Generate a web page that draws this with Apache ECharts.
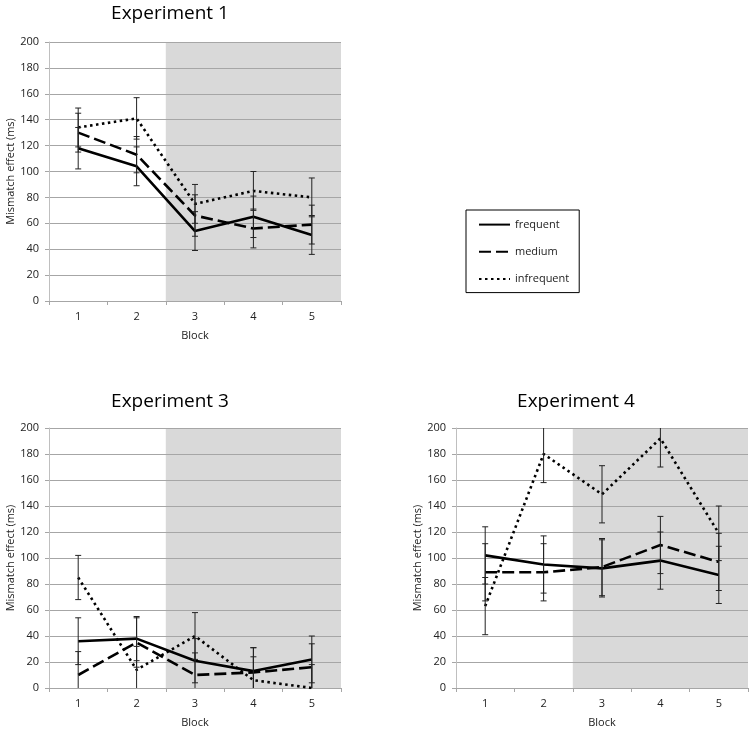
<!DOCTYPE html>
<html>
<head>
<meta charset="utf-8">
<script src="https://cdn.jsdelivr.net/npm/echarts@6/dist/echarts.min.js"></script>
<style>
  html, body { margin: 0; padding: 0; background: #fff; }
  #chart { width: 756px; height: 731px; }
</style>
</head>
<body>
<div id="chart"></div>
<script>
// blocks on the x axis
const blocks = ["1", "2", "3", "4", "5"];
const yTicks = [0, 20, 40, 60, 80, 100, 120, 140, 160, 180, 200];

// Experiment 1 (mean mismatch effect, ms) and error bar half widths
const exp1Frequent = [118, 104, 54, 65, 51];
const exp1Medium = [130, 113, 66, 56, 59];
const exp1Infrequent = [134, 141, 75, 85, 80];
const exp1FrequentErr = [16, 15, 15, 16, 15];
const exp1MediumErr = [15, 14, 16, 15, 15];
const exp1InfrequentErr = [15, 16, 15, 15, 15];

// Experiment 3
const exp3Frequent = [36, 38, 21, 13, 22];
const exp3Medium = [10, 35, 10, 12, 16];
const exp3Infrequent = [85, 14, 40, 6, 0];
const exp3FrequentErr = [18, 17, 17, 18, 18];
const exp3MediumErr = [18, 19, 17, 19, 18];
const exp3InfrequentErr = [17, 18, 18, 18, 18];

// Experiment 4
const exp4Frequent = [102, 95, 92, 98, 87];
const exp4Medium = [89, 89, 93, 110, 97];
const exp4Infrequent = [63, 180, 149, 192, 119];
const exp4FrequentErr = [22, 22, 22, 22, 22];
const exp4MediumErr = [22, 22, 22, 22, 22];
const exp4InfrequentErr = [22, 22, 22, 22, 21];

const FONT = "Open Sans";
const chart = echarts.init(document.getElementById("chart"));

const panels = [
  { title: "Experiment 1", grid: { left: 49, top: 42, width: 292, height: 259 }, titleX: 170, titleY: 4,
    f: exp1Frequent, m: exp1Medium, i: exp1Infrequent, fe: exp1FrequentErr, me: exp1MediumErr, ie: exp1InfrequentErr },
  { title: "Experiment 3", grid: { left: 49, top: 428, width: 292, height: 260 }, titleX: 170, titleY: 392,
    f: exp3Frequent, m: exp3Medium, i: exp3Infrequent, fe: exp3FrequentErr, me: exp3MediumErr, ie: exp3InfrequentErr },
  { title: "Experiment 4", grid: { left: 456, top: 428, width: 292, height: 260 }, titleX: 576, titleY: 392,
    f: exp4Frequent, m: exp4Medium, i: exp4Infrequent, fe: exp4FrequentErr, me: exp4MediumErr, ie: exp4InfrequentErr }
];

const lineStyles = {
  frequent: { type: "solid", width: 2.6 },
  medium: { type: [12, 5], width: 2.6 },
  infrequent: { type: [2.5, 3.5], width: 2.6 }
};

function lineSeries(name, data, idx) {
  return {
    name: name,
    type: "line",
    xAxisIndex: idx * 2,
    yAxisIndex: idx,
    data: data,
    symbol: "none",
    color: "#000",
    lineStyle: Object.assign({ color: "#000" }, lineStyles[name]),
    z: 3,
    silent: true
  };
}

function errorSeries(values, errs, idx) {
  return {
    type: "custom",
    xAxisIndex: idx * 2,
    yAxisIndex: idx,
    clip: true,
    silent: true,
    z: 4,
    data: values.map((v, k) => [k, v - errs[k], v + errs[k]]),
    renderItem: function (params, api) {
      const lo = api.coord([api.value(0), api.value(1)]);
      const hi = api.coord([api.value(0), api.value(2)]);
      const w = 3;
      const style = { stroke: "#222", lineWidth: 1 };
      return {
        type: "group",
        children: [
          { type: "line", shape: { x1: lo[0], y1: lo[1], x2: hi[0], y2: hi[1] }, style: style },
          { type: "line", shape: { x1: lo[0] - w, y1: lo[1], x2: lo[0] + w, y2: lo[1] }, style: style },
          { type: "line", shape: { x1: hi[0] - w, y1: hi[1], x2: hi[0] + w, y2: hi[1] }, style: style }
        ]
      };
    }
  };
}

const grids = [], xAxes = [], yAxes = [], series = [], titles = [];

panels.forEach((p, idx) => {
  grids.push(Object.assign({ containLabel: false }, p.grid));
  titles.push({
    text: p.title,
    left: p.titleX,
    top: p.titleY,
    textAlign: "center",
    padding: 0,
    textStyle: { fontFamily: FONT, fontSize: 19, fontWeight: "normal", color: "#000" }
  });
  xAxes.push({
    type: "category",
    gridIndex: idx,
    data: blocks,
    boundaryGap: true,
    name: "Block",
    nameLocation: "middle",
    nameGap: 29,
    nameTextStyle: { fontFamily: FONT, fontSize: 11, color: "#222" },
    axisLine: { lineStyle: { color: "#a6a6a6", width: 1 } },
    axisTick: { show: true, length: 4, alignWithLabel: false, lineStyle: { color: "#a6a6a6" } },
    axisLabel: { margin: 10, fontFamily: FONT, fontSize: 11, color: "#222" },
    splitLine: { show: false },
    z: 1.5
  });
  // hidden numeric axis used to place the shaded band between blocks
  xAxes.push({
    type: "value",
    gridIndex: idx,
    min: 0.5,
    max: 5.5,
    show: false
  });
  yAxes.push({
    type: "value",
    gridIndex: idx,
    min: yTicks[0],
    max: yTicks[yTicks.length - 1],
    interval: yTicks[1] - yTicks[0],
    name: "Mismatch effect (ms)",
    nameLocation: "middle",
    nameGap: 32,
    nameTextStyle: { fontFamily: FONT, fontSize: 11, color: "#222" },
    axisLine: { show: true, lineStyle: { color: "#bfbfbf", width: 1 } },
    axisTick: { show: true, length: 4, lineStyle: { color: "#a6a6a6" } },
    axisLabel: { margin: 10, fontFamily: FONT, fontSize: 11, color: "#222" },
    splitLine: { show: true, lineStyle: { color: "#a6a6a6", width: 1 } },
    z: 1.5
  });
  series.push({
    type: "line",
    xAxisIndex: idx * 2 + 1,
    yAxisIndex: idx,
    data: [],
    silent: true,
    z: -1,
    markArea: {
      silent: true,
      z: -1,
      itemStyle: { color: "#d9d9d9" },
      data: [[{ xAxis: 2.5 }, { xAxis: 5.5 }]]
    }
  });
  series.push(lineSeries("frequent", p.f, idx));
  series.push(lineSeries("medium", p.m, idx));
  series.push(lineSeries("infrequent", p.i, idx));
  series.push(errorSeries(p.f, p.fe, idx));
  series.push(errorSeries(p.m, p.me, idx));
  series.push(errorSeries(p.i, p.ie, idx));
});

chart.setOption({
  animation: false,
  backgroundColor: "#fff",
  title: titles,
  legend: {
    data: ["frequent", "medium", "infrequent"],
    orient: "vertical",
    left: 466,
    top: 210,
    itemWidth: 31,
    itemHeight: 14,
    itemGap: 16,
    padding: [9, 10, 8, 12],
    borderColor: "#000",
    borderWidth: 1,
    selectedMode: false,
    itemStyle: { opacity: 0 },
    textStyle: { fontFamily: FONT, fontSize: 11, color: "#222" }
  },
  grid: grids,
  xAxis: xAxes,
  yAxis: yAxes,
  series: series
});
</script>
</body>
</html>
